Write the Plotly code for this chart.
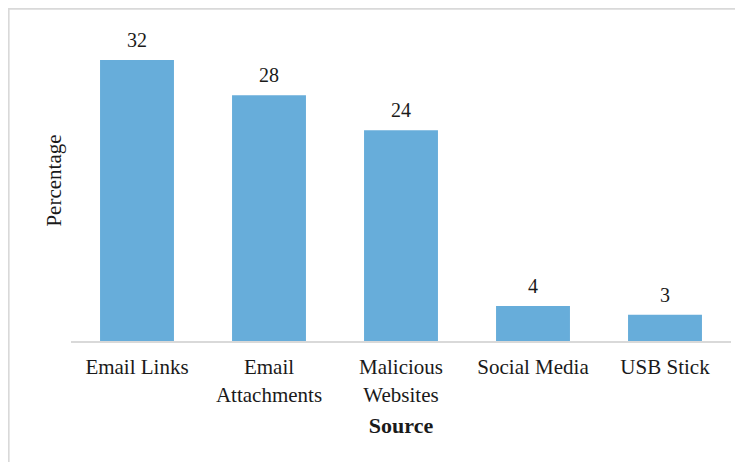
import plotly.graph_objects as go

categories = ["Email Links", "Email<br>Attachments", "Malicious<br>Websites", "Social Media", "USB Stick"]
values = [32, 28, 24, 4, 3]

FONT = "Liberation Serif, Times New Roman, serif"
BAR_COLOR = "#67ADDA"
TXT = "#1a1a1a"

fig = go.Figure()
fig.add_trace(go.Bar(
    x=categories, y=values,
    marker=dict(color=BAR_COLOR, line=dict(width=0)),
    width=0.56,
    hoverinfo="x+y",
))

for c, v in zip(categories, values):
    fig.add_annotation(x=c, y=v, text=str(v), showarrow=False,
                       yanchor="bottom", yshift=7,
                       font=dict(family=FONT, size=20, color=TXT))

# outer light-gray frame
fig.add_shape(type="rect", xref="paper", yref="paper",
              x0=-0.0945, x1=1.2, y0=-0.6, y1=1.035,
              line=dict(color="#d9d9d9", width=2), fillcolor="rgba(0,0,0,0)", layer="below")

fig.update_layout(
    width=743, height=462,
    margin=dict(l=63, r=20, t=12, b=129),
    paper_bgcolor="white", plot_bgcolor="white",
    showlegend=False,
    font=dict(family=FONT, size=21, color=TXT),
    xaxis=dict(
        showline=True, linecolor="#d9d9d9", linewidth=2,
        showgrid=False, ticks="", ticklabelstandoff=6,
        tickfont=dict(family=FONT, size=21, color=TXT),
        title=dict(text="<b>Source</b>", font=dict(family=FONT, size=22, color=TXT), standoff=12),
        fixedrange=True,
    ),
    yaxis=dict(
        range=[0, 36.56], showticklabels=False, showgrid=False, zeroline=False,
        showline=False, ticks="",
        title=dict(text="Percentage", font=dict(family=FONT, size=21, color=TXT), standoff=2),
        fixedrange=True,
    ),
)

fig.write_html("out.html")
